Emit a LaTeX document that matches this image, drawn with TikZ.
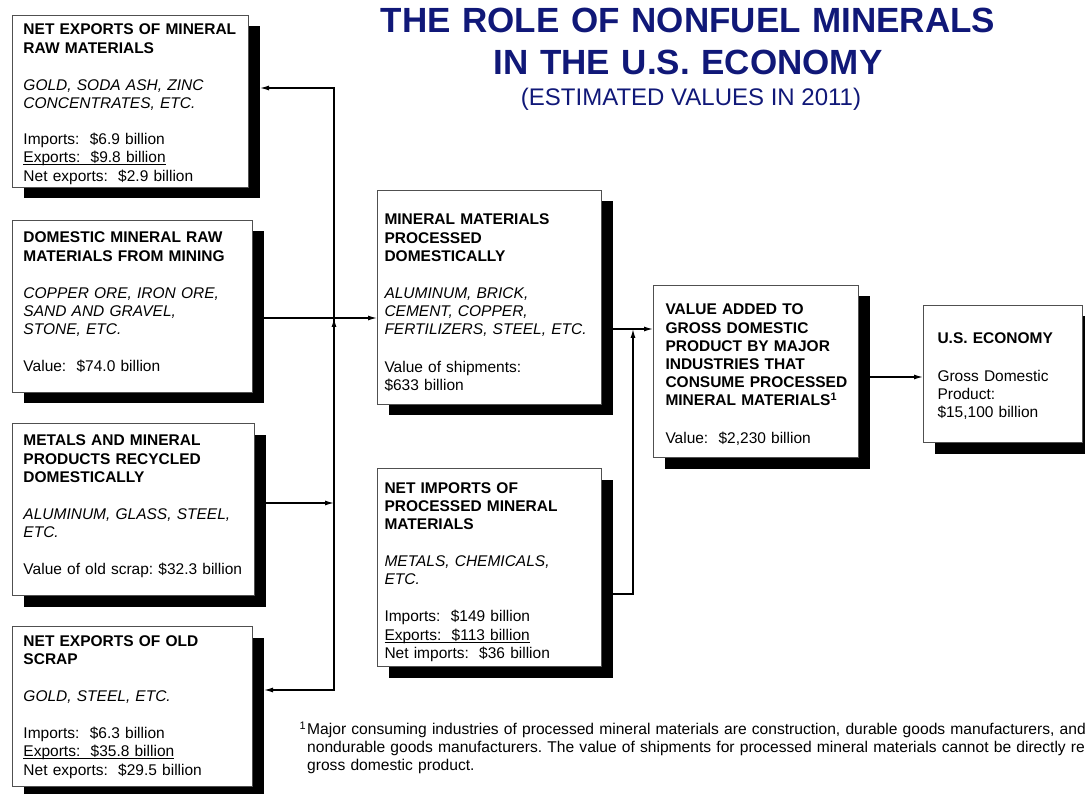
\documentclass[tikz,border=0pt]{standalone}
\usepackage{fontspec}
\setmainfont{Liberation Sans}
\usetikzlibrary{arrows.meta,shadows}

\definecolor{titleblue}{RGB}{16,24,120}
\definecolor{framegray}{RGB}{80,80,80}

% Underline placed close to the baseline
\newcommand\lowrule[1]{\leavevmode\setbox0\hbox{#1}\rlap{\rule[-2.2pt]{\wd0}{0.8pt}}\box0}

\frenchspacing

\begin{document}
\begin{tikzpicture}[
    x=1pt, y=-1pt,
    panel/.style n args={4}{draw=framegray, line width=1pt, fill=white,
      anchor=north west, inner sep=0pt, align=left,
      font=\fontsize{15.5pt}{18.2pt}\selectfont,
      text width=#1pt, text height=#3pt, text depth=#4pt,
      execute at begin node={\leftskip=#2pt\relax},
      drop shadow={shadow xshift=11pt, shadow yshift=-11pt, fill=black, opacity=1}},
    flow/.style={line width=1.2pt, -{Latex[length=9pt,width=5pt]}}
  ]

    % Page frame
    \useasboundingbox (0,0) rectangle (1085,794);
    \clip (0,0) rectangle (1085,794);

    % Title
    \node[font=\fontsize{35pt}{42pt}\selectfont\bfseries, text=titleblue, text width=720pt,
      align=center, inner sep=0pt, anchor=base] (title) at (688,32.5)
      {THE ROLE OF NONFUEL MINERALS\\IN THE U.S. ECONOMY};
    \node[font=\fontsize{24pt}{28pt}\selectfont, text=titleblue, inner sep=0pt, anchor=base]
      (subtitle) at (691,105.5) {(ESTIMATED VALUES IN 2011)};

    % Raw material boxes (left column)
    \node[panel={236}{11}{19.5}{152.5}] (nermr) at (12,15) {
      {\bfseries NET EXPORTS OF MINERAL\\RAW MATERIALS}\\[19pt]
      {\itshape GOLD, SODA ASH, ZINC\\CONCENTRATES, ETC.}\\[18pt]
      Imports:~~\$6.9 billion\\
      \lowrule{Exports:~~\$9.8 billion}\\
      Net exports:~~\$2.9 billion
    };

    \node[panel={240}{11}{22.5}{149.5}] (dommr) at (12,220) {
      {\bfseries DOMESTIC MINERAL RAW\\MATERIALS FROM MINING}\\[19pt]
      {\itshape COPPER ORE, IRON ORE,\\SAND AND GRAVEL,\\STONE, ETC.}\\[19pt]
      Value:~~\$74.0 billion
    };

    \node[panel={242}{11}{22.5}{149.5}] (recyc) at (12,423) {
      {\bfseries METALS AND MINERAL\\PRODUCTS RECYCLED\\DOMESTICALLY}\\[19pt]
      {\itshape ALUMINUM, GLASS, STEEL,\\ETC.}\\[19pt]
      Value of old scrap: \$32.3 billion
    };

    \node[panel={240}{11}{19.5}{140.5}] (neos) at (12,626) {
      {\bfseries NET EXPORTS OF OLD\\SCRAP}\\[19pt]
      {\itshape GOLD, STEEL, ETC.}\\[19pt]
      Imports:~~\$6.3 billion\\
      \lowrule{Exports:~~\$35.8 billion}\\
      Net exports:~~\$29.5 billion
    };

    % Processed material boxes (middle column)
    \node[panel={224}{7}{34.5}{179.5}] (proc) at (377,190) {
      {\bfseries MINERAL MATERIALS\\PROCESSED\\DOMESTICALLY}\\[19pt]
      {\itshape ALUMINUM, BRICK,\\CEMENT, COPPER,\\FERTILIZERS, STEEL, ETC.}\\[19pt]
      Value of shipments:\\
      \$633 billion
    };

    \node[panel={224}{7}{24.5}{173.5}] (nipm) at (377,468) {
      {\bfseries NET IMPORTS OF\\PROCESSED MINERAL\\MATERIALS}\\[19pt]
      {\itshape METALS, CHEMICALS,\\ETC.}\\[19pt]
      Imports:~~\$149 billion\\
      \lowrule{Exports:~~\$113 billion}\\
      Net imports:~~\$36 billion
    };

    % Value added and economy
    \node[panel={205}{12}{29.5}{142.5}] (vadd) at (653,285) {
      {\bfseries VALUE ADDED TO\\GROSS DOMESTIC\\PRODUCT BY MAJOR\\INDUSTRIES THAT\\CONSUME PROCESSED\\MINERAL MATERIALS\textsuperscript{1}}\\[19pt]
      Value:~~\$2,230 billion
    };

    \node[panel={159}{14}{38.5}{98.5}] (useco) at (923,305) {
      {\bfseries U.S. ECONOMY}\\[19pt]
      Gross Domestic\\
      Product:\\
      \$15,100 billion
    };

    % Junction points
    \coordinate (j1) at (334,88);
    \coordinate (j2) at (334,318);
    \coordinate (j3) at (334,503);
    \coordinate (j4) at (334,690);
    \coordinate (k1) at (633,329);
    \coordinate (k2) at (633,594);
    \coordinate (g1) at (896,377);

    % Connectors
    \draw[flow] (j2) -- (j1) -- ([xshift=11pt]nermr.east |- j1);
    \draw[flow] (j2) -- (j4) -- ([xshift=11pt]neos.east |- j4);
    \draw[flow] (j4) -- (j2);
    \draw[flow] ([xshift=11pt]dommr.east |- j2) -- (proc.west |- j2);
    \draw[flow] ([xshift=11pt]recyc.east |- j3) -- (j3);
    \draw[flow] ([xshift=11pt]proc.east |- k1) -- (vadd.west |- k1);
    \draw[flow] ([xshift=11pt]nipm.east |- k2) -- (k2) -- (k1);
    \draw[flow] ([xshift=11pt]vadd.east |- g1) -- (useco.west |- g1);

    % Footnote
    \node[font=\fontsize{15.6pt}{18pt}\selectfont, text width=900pt, align=left,
      inner sep=0pt, anchor=base west] (note) at (307,734.5) {
      \llap{\textsuperscript{1}\hspace{1pt}}Major consuming industries of processed mineral materials are construction, durable goods manufacturers, and\\
      nondurable goods manufacturers. The value of shipments for processed mineral materials cannot be directly related to\\
      gross domestic product.
    };

  \end{tikzpicture}
\end{document}
